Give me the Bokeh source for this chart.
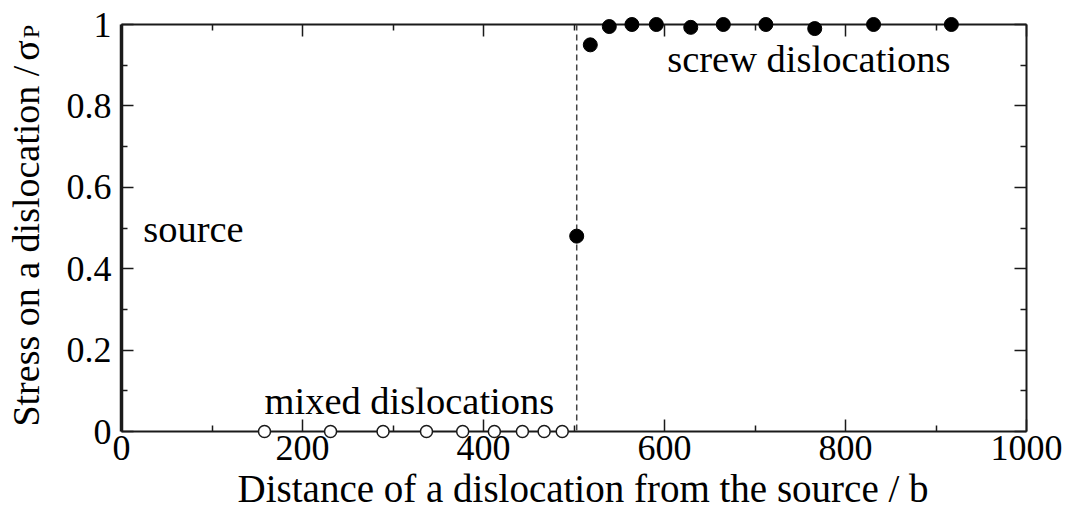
import math
from bokeh.plotting import figure
from bokeh.models import LinearAxis, Span, Range1d, FixedTicker
from bokeh.core.properties import value
from bokeh.embed import file_html
from bokeh.resources import INLINE

# data
mixed_x = [158, 231, 289, 337, 377, 412, 443, 467, 487]
mixed_y = [0, 0, 0, 0, 0, 0, 0, 0, 0]
screw_x = [503, 518, 539, 564, 591, 629, 665, 712, 766, 831, 917]
screw_y = [0.48, 0.95, 0.995, 1.0, 1.0, 0.993, 1.0, 1.0, 0.99, 1.0, 1.0]
boundary_x = 503
x_major = [0, 200, 400, 600, 800, 1000]
x_minor = [100, 300, 500, 700, 900]
y_major = [0, 0.2, 0.4, 0.6, 0.8, 1.0]
y_minor = [0.1, 0.3, 0.5, 0.7, 0.9]
y_labels = {0: "0", 0.2: "0.2", 0.4: "0.4", 0.6: "0.6", 0.8: "0.8", 1.0: "1"}
x_title = "Distance of a dislocation from the source / b"
y_title = "Stress on a dislocation /"
y_title_sym = "σ"
y_title_sub = "P"
note_x = [24, 158, 603]
note_y = [0.498, 0.076, 0.916]
note_text = ["source", "mixed dislocations", "screw dislocations"]

FONT = "Liberation Serif"
ROT_FONT = '"Liberation Serif", serif'
INK = "#1a1a1a"

p = figure(width=1073, height=510, output_backend="svg", toolbar_location=None,
           x_range=Range1d(0, 1000), y_range=Range1d(0, 1),
           min_border_left=121, min_border_right=47, min_border_top=24,
           min_border_bottom=79)
p.grid.visible = False
p.outline_line_color = None
p.background_fill_color = "white"
p.border_fill_color = "white"


def style(ax, ticks, minor, lw, labels=True):
    ax.ticker = FixedTicker(ticks=ticks, minor_ticks=minor)
    ax.major_tick_in = 12
    ax.major_tick_out = 0
    ax.minor_tick_in = 6
    ax.minor_tick_out = 0
    ax.axis_line_width = lw
    ax.axis_line_color = INK
    ax.major_tick_line_color = INK
    ax.minor_tick_line_color = INK
    ax.major_tick_line_width = 1.5
    ax.minor_tick_line_width = 1.5
    if labels:
        ax.major_label_text_font = FONT
        ax.major_label_text_font_size = "36px"
        ax.major_label_text_color = "black"
    else:
        ax.major_label_text_color = None
        ax.major_label_text_font_size = "1px"
        ax.major_label_standoff = 0


style(p.xaxis[0], x_major, x_minor, 2)
p.xaxis[0].major_label_standoff = 4
style(p.yaxis[0], y_major, y_minor, 3.5)
p.yaxis[0].major_label_overrides = y_labels
p.yaxis[0].major_label_standoff = 10

top = LinearAxis()
style(top, x_major, x_minor, 2, labels=False)
p.add_layout(top, "above")
right = LinearAxis()
style(right, y_major, y_minor, 2, labels=False)
p.add_layout(right, "right")

p.add_layout(Span(location=boundary_x, dimension="height", line_dash="6 4",
                  line_color="#444444", line_width=1.5))

r1 = p.scatter(mixed_x, mixed_y, size=12, marker="circle", fill_color="white",
               line_color=INK, line_width=1.5)
r2 = p.scatter(screw_x, screw_y, size=14, marker="circle", fill_color="black",
               line_color="black")
r1.level = "overlay"
r2.level = "overlay"

t1 = p.text(x=note_x, y=note_y, text=note_text, text_font=value(FONT),
            text_font_size=value("38.5px"), text_color="black",
            text_baseline="alphabetic")

# axis titles (overlay level so they are not clipped to the frame)
t2 = p.text(x=[510], y=[-0.141], text=[x_title], text_font=value(FONT),
            text_font_size=value("39px"), text_color="black",
            text_align="center", text_baseline="alphabetic")
t3 = p.text(x=[-106], y=[0.899], text=[y_title], text_font=value(ROT_FONT),
            text_font_size=value("38px"), text_color="black", angle=math.pi / 2,
            text_align="right", text_baseline="alphabetic")
t3b = p.text(x=[-106], y=[0.961], text=[y_title_sym], text_font=value(ROT_FONT),
             text_font_size=value("38px"), text_color="black", angle=math.pi / 2,
             text_align="right", text_baseline="alphabetic")
t4 = p.text(x=[-100], y=[0.966], text=[y_title_sub], text_font=value(ROT_FONT),
            text_font_size=value("24px"), text_color="black", angle=math.pi / 2,
            text_align="left", text_baseline="alphabetic")
for r in (t1, t2, t3, t3b, t4):
    r.level = "overlay"

open("out.html", "w").write(file_html(p, INLINE))
